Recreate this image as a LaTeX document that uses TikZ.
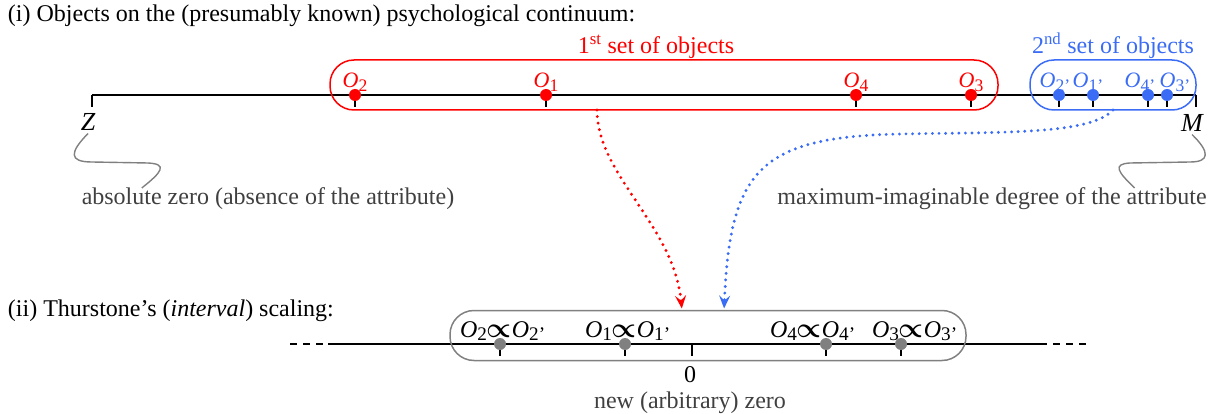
\documentclass[tikz,border=0pt]{standalone}
\usepackage{fontspec}
\setmainfont{Liberation Serif}
\usepackage{amsmath}
\usetikzlibrary{arrows.meta, positioning}
\definecolor{setred}{HTML}{FF0000}
\definecolor{setblue}{HTML}{3A6CF5}
\definecolor{scalegray}{HTML}{808080}
\definecolor{notegray}{HTML}{404040}
\newcommand{\obj}[1]{\textit{O}\raisebox{-0.15em}{\scalebox{0.8}{#1}}}
\newcommand{\objprop}[1]{\obj{#1}\scalebox{1.12}{$\boldsymbol{\propto}$}\obj{#1'}}

\begin{document}
\begin{tikzpicture}[x=1pt, y=-1pt,
        every node/.style={inner sep=0pt, outer sep=0pt},
        txt/.style={font=\fontsize{24}{28}\selectfont},
        endlab/.style={font=\fontsize{26}{28}\selectfont\itshape},
        axis/.style={line width=1.5pt},
        tick/.style={line width=1.3pt},
        objdot/.style={circle, fill=#1, minimum size=12pt},
        objlab/.style={font=\fontsize{22}{26}\selectfont, anchor=base},
        % rounded frames around each group of objects
        setbox/.style={draw=#1, line width=1.5pt, rounded corners=24pt,
                       minimum height=50pt},
        link/.style={draw=#1, line width=3.2pt, line cap=round,
                     dash pattern=on 0pt off 6.6pt,
                     -{Stealth[length=13pt, width=11pt, inset=5pt]},
                     shorten >=2pt},
        squiggle/.style={draw=scalegray, line width=1.4pt}
    ]
        \useasboundingbox (0,0) rectangle (1215,414);

        % (i) the psychological continuum
        \node[txt, anchor=west] (title1) at (8,16)
            {(i) Objects on the (presumably known) psychological continuum:};

        \coordinate (Z) at (92,95);
        \coordinate (M) at (1196,95);
        \draw[axis] (Z) -- (M);
        \draw[tick] (Z) -- ++(0,12);
        \draw[tick] (M) -- ++(0,12);
        \node[endlab] (Zlab) at (88,122) {Z};
        \node[endlab] (Mlab) at (1192,123) {M};

        \node[setbox=setred, minimum width=668pt] (set1) at (664,85) {};
        \node[setbox=setblue, minimum width=166pt] (set2) at (1113,85) {};
        \node[txt, text=setred, above=1.5pt of set1, xshift=-8pt] (set1lab)
            {1\textsuperscript{st} set of objects};
        \node[txt, text=setblue, above=1.5pt of set2] (set2lab)
            {2\textsuperscript{nd} set of objects};

        \foreach \x/\n in {355/2, 546/1, 856/4, 971/3} {
            \node[objdot=setred] (r\n) at (\x,95) {};
            \draw[tick] (r\n.south) -- ++(0,6);
            \node[objlab, text=setred] at ([yshift=7pt]r\n.center) {\obj{\n}};
        }
        \foreach \x/\n/\dx in {1059/2/-4, 1093/1/-5, 1148/4/-8, 1167/3/8} {
            \node[objdot=setblue] (b\n) at (\x,95) {};
            \draw[tick] (b\n.south) -- ++(0,6);
            \node[objlab, text=setblue] at ([xshift=\dx pt, yshift=7pt]b\n.center)
                {\obj{\n'}};
        }

        \node[txt, text=notegray] (zerolab) at (268,199)
            {absolute zero (absence of the attribute)};
        \node[txt, text=notegray] (maxlab) at (992,199)
            {maximum-imaginable degree of the attribute};

        \draw[squiggle] ([yshift=-3pt]Zlab.south) .. controls (70,152) and (68,162) .. (92,162)
            -- (148,163) .. controls (168,164) and (162,172) .. ([xshift=60pt]zerolab.north west);
        \draw[squiggle] ([yshift=-3pt]Mlab.south) .. controls (1210,152) and (1210,162) .. (1190,162)
            -- (1130,163) .. controls (1112,164) and (1118,172) .. ([xshift=-72pt]maxlab.north east);

        % (ii) Thurstone's interval scale
        \node[txt, anchor=west] (title2) at (8,311)
            {(ii) Thurstone's (\textit{interval}) scaling:};

        \coordinate (L0) at (290,344);
        \coordinate (L1) at (328,344);
        \coordinate (R1) at (1047,344);
        \coordinate (R0) at (1053,344);
        \coordinate (R2) at (1087,344);
        \draw[axis, dash pattern=on 7pt off 6pt] (L0) -- (L1);
        \draw[axis] (L1) -- (R1);
        \draw[axis, dash pattern=on 7pt off 6pt] (R0) -- (R2);

        \coordinate (origin) at (692,344);
        \draw[tick] (origin) -- ++(0,12);
        \node[txt, below=23pt of origin, xshift=-2pt] (zero) {0};
        \node[txt, text=notegray, below=9pt of zero] (newzero) {new (arbitrary) zero};

        \node[setbox=scalegray, minimum width=516pt] (scale) at (708,335.5) {};

        \foreach \x/\n/\lx in {500/2/460, 625/1/585, 826/4/770, 901/3/872} {
            \node[objdot=scalegray] (g\n) at (\x,344) {};
            \draw[tick] (g\n.south) -- ++(0,6);
            \node[objlab, anchor=base west, font=\fontsize{24}{28}\selectfont]
                at (\lx,337) {\objprop{\n}};
        }

        \draw[link=setred] ([xshift=-67pt]set1.south)
            .. controls +(0,65) and +(-8,-85) .. ([xshift=-26pt]scale.north);
        \draw[link=setblue] (set2.south)
            .. controls (1090,135) and (1000,132) .. (900,134)
            .. controls (760,137) and (730,170) .. ([xshift=16pt]scale.north);
    \end{tikzpicture}
\end{document}
